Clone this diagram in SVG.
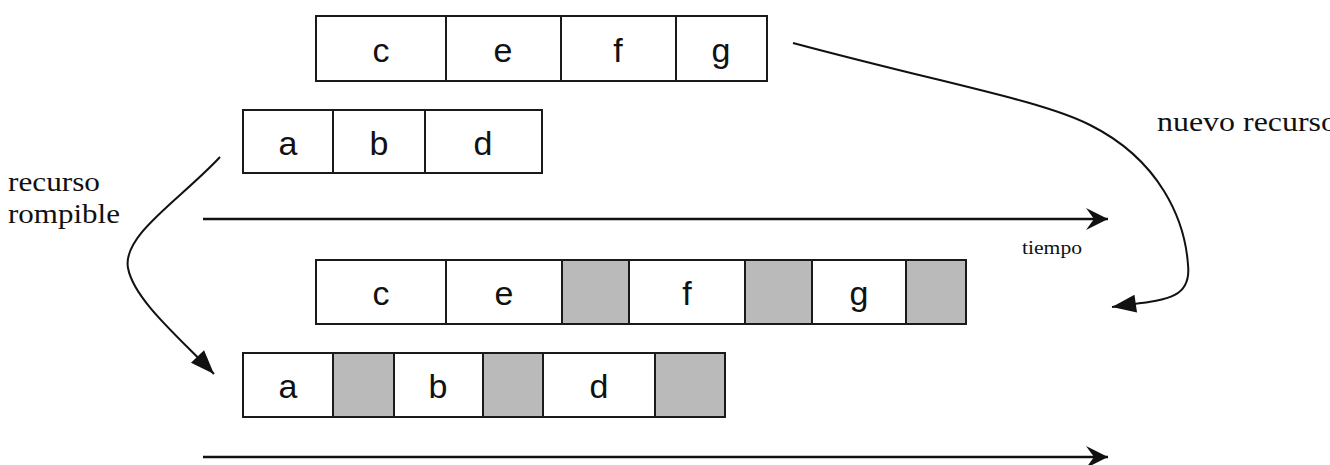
<svg xmlns="http://www.w3.org/2000/svg" width="1330" height="465" viewBox="0 0 1330 465">
<style>
.cell{fill:#fff;stroke:#1a1a1a;stroke-width:2}
.gray{fill:#bababa;stroke:#1a1a1a;stroke-width:2}
.lbl{font-family:"Liberation Sans",Arial,sans-serif;font-size:34px;fill:#111;text-anchor:middle}
.ser{font-family:"Liberation Serif","Times New Roman",serif;fill:#111}
.axis{stroke:#111;stroke-width:2.5;fill:none}
.curve{stroke:#111;stroke-width:2;fill:none}
</style>
<defs>
<marker id="stealth" viewBox="-24 -12 26 24" refX="0" refY="0" markerWidth="26" markerHeight="24" markerUnits="userSpaceOnUse" orient="auto">
<path d="M0,0 L-22,-11 L-14,0 L-22,11 Z" fill="#111"/>
</marker>
<marker id="tri" viewBox="-26 -12 28 24" refX="0" refY="0" markerWidth="28" markerHeight="24" markerUnits="userSpaceOnUse" orient="auto">
<path d="M0,0 L-24,-9 L-24,9 Z" fill="#111"/>
</marker>
</defs>
<rect width="1330" height="465" fill="#fff"/>

<g id="row1">
<rect class="cell" x="316" y="16" width="130" height="65"/>
<rect class="cell" x="446" y="16" width="115" height="65"/>
<rect class="cell" x="561" y="16" width="115" height="65"/>
<rect class="cell" x="676" y="16" width="91" height="65"/>
<text class="lbl" x="381" y="62">c</text>
<text class="lbl" x="503" y="62">e</text>
<text class="lbl" x="618" y="62">f</text>
<text class="lbl" x="721" y="62">g</text>
</g>

<g id="row2">
<rect class="cell" x="243" y="110" width="90" height="63"/>
<rect class="cell" x="333" y="110" width="92" height="63"/>
<rect class="cell" x="425" y="110" width="117" height="63"/>
<text class="lbl" x="288" y="155">a</text>
<text class="lbl" x="379" y="155">b</text>
<text class="lbl" x="483" y="155">d</text>
</g>

<g id="row3">
<rect class="cell" x="316" y="260" width="130" height="64"/>
<rect class="cell" x="446" y="260" width="116" height="64"/>
<rect class="gray" x="562" y="260" width="67" height="64"/>
<rect class="cell" x="629" y="260" width="116" height="64"/>
<rect class="gray" x="745" y="260" width="67" height="64"/>
<rect class="cell" x="812" y="260" width="94" height="64"/>
<rect class="gray" x="906" y="260" width="60" height="64"/>
<text class="lbl" x="381" y="305">c</text>
<text class="lbl" x="504" y="305">e</text>
<text class="lbl" x="687" y="305">f</text>
<text class="lbl" x="859" y="305">g</text>
</g>

<g id="row4">
<rect class="cell" x="243" y="353" width="90" height="64"/>
<rect class="gray" x="333" y="353" width="61" height="64"/>
<rect class="cell" x="394" y="353" width="89" height="64"/>
<rect class="gray" x="483" y="353" width="60" height="64"/>
<rect class="cell" x="543" y="353" width="112" height="64"/>
<rect class="gray" x="655" y="353" width="70" height="64"/>
<text class="lbl" x="288" y="398">a</text>
<text class="lbl" x="438" y="398">b</text>
<text class="lbl" x="599" y="398">d</text>
</g>

<g id="labels">
<text class="ser" x="8" y="191" font-size="28" textLength="92" lengthAdjust="spacingAndGlyphs">recurso</text>
<text class="ser" x="8" y="223" font-size="28" textLength="112" lengthAdjust="spacingAndGlyphs">rompible</text>
<text class="ser" x="1157" y="131" font-size="28" textLength="180" lengthAdjust="spacingAndGlyphs">nuevo recurso</text>
<text class="ser" x="1022" y="254" font-size="19" textLength="60" lengthAdjust="spacingAndGlyphs">tiempo</text>
</g>

<g id="connectors">
<line class="axis" x1="203" y1="219" x2="1108" y2="219" marker-end="url(#stealth)"/>
<line class="axis" x1="203" y1="457" x2="1108" y2="457" marker-end="url(#stealth)"/>
<path class="curve" d="M220,157 C180,200 122,235 128,268 C134,300 180,338 214,374" marker-end="url(#tri)"/>
<path class="curve" d="M793,43 C950,85 1040,100 1090,125 C1160,160 1185,220 1188,265 C1192,302 1160,300 1112,307" marker-end="url(#tri)"/>
</g>
</svg>
